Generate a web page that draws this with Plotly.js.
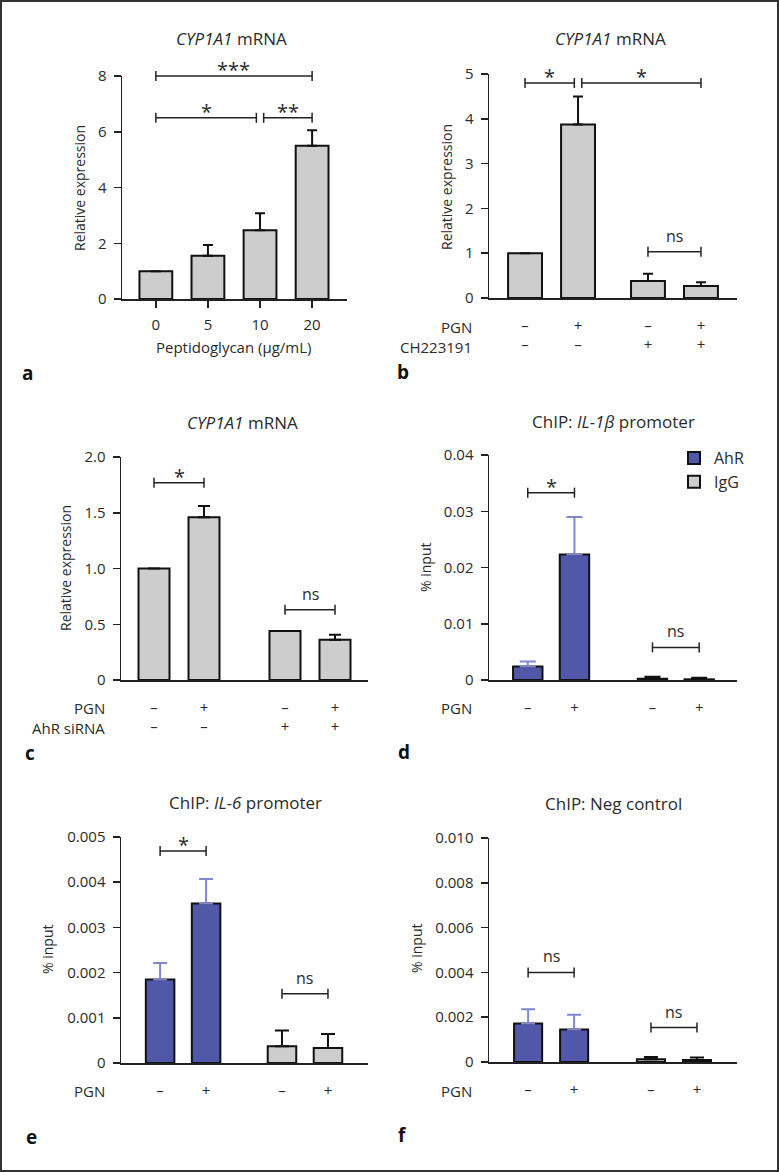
<!DOCTYPE html>
<html>
<head>
<meta charset="utf-8">
<script src="https://cdn.plot.ly/plotly-3.0.1.min.js"></script>
<style>
  html, body { margin: 0; padding: 0; background: #fff; }
  #fig { width: 779px; height: 1172px; }
</style>
</head>
<body>
<div id="fig"></div>
<script>
// a: CYP1A1 mRNA vs peptidoglycan dose
var doseLabels = ['0', '5', '10', '20'];
var doseMean = [1.0, 1.55, 2.47, 5.5];
var doseSem = [0, 0.39, 0.61, 0.55];

// b: PGN +/- CH223191
var chMean = [1.0, 3.87, 0.38, 0.27];
var chSem = [0, 0.63, 0.16, 0.08];

// c: PGN +/- AhR siRNA
var siMean = [1.0, 1.46, 0.44, 0.36];
var siSem = [0, 0.10, 0, 0.045];

// treatment rows under b-f
var pgnRow = ['–', '+', '–', '+'];
var inhibitorRow = ['–', '–', '+', '+'];

// d-f: ChIP, AhR antibody (first pair) and IgG (second pair)
var il1bAhR = [0.0024, 0.0223];
var il1bAhRSem = [0.0009, 0.0067];
var il1bIgG = [0.00024, 0.00012];
var il1bIgGSem = [0.00035, 0.0003];

var il6AhR = [0.00185, 0.00353];
var il6AhRSem = [0.00036, 0.00054];
var il6IgG = [0.00037, 0.00033];
var il6IgGSem = [0.00035, 0.00031];

var negAhR = [0.00172, 0.00145];
var negAhRSem = [0.00064, 0.00066];
var negIgG = [0.00012, 0.00009];
var negIgGSem = [0.0001, 0.00011];

// y ticks
var yTickA = [0, 2, 4, 6, 8];
var yTickB = [0, 1, 2, 3, 4, 5];
var yTickC = [0, 0.5, 1, 1.5, 2];
var yTextC = ['0', '0.5', '1.0', '1.5', '2.0'];
var yTickD = [0, 0.01, 0.02, 0.03, 0.04];
var yTickE = [0, 0.001, 0.002, 0.003, 0.004, 0.005];
var yTickF = [0, 0.002, 0.004, 0.006, 0.008, 0.010];
var yTextF = ['0', '0.002', '0.004', '0.006', '0.008', '0.010'];

// significance: [from bar, to bar, height, label]
var sigA = [[0, 3, 8, '***'], [0, 2, 6.5, '*'], [2, 3, 6.5, '**']];
var sigB = [[0, 1, 4.8, '*'], [1, 3, 4.8, '*'], [2, 3, 1.03, 'ns']];
var sigC = [[0, 1, 1.77, '*'], [2, 3, 0.63, 'ns']];
var sigD = [[0, 1, 0.0333, '*'], [2, 3, 0.0058, 'ns']];
var sigE = [[0, 1, 0.00469, '*'], [2, 3, 0.00153, 'ns']];
var sigF = [[0, 1, 0.004, 'ns'], [2, 3, 0.00154, 'ns']];

var W = 779, H = 1172;
function px(x) { return x / W; }
function py(y) { return 1 - y / H; }

var FONT = 'Open Sans, Noto Sans, sans-serif';
var INK = '#2b2b2b';
var GREY = '#cdcdcd';
var BLUE = '#5158a9';
var BLUE_ERR = '#8087cf';

// panel geometry in pixels: [left, right, top, bottom]
var panels = [
  {n: 1, box: [122, 347, 76, 299], xr: [-0.65, 3.67], slots: [0, 1, 2, 3], yMax: 8, bw: 0.63, cap: 5,
   yt: yTickA, ytt: yTickA.map(String), sig: sigA, ticks: doseLabels},
  {n: 2, box: [489, 737, 74, 298], xr: [-0.68, 4.0], slots: [0, 1, 2.32, 3.32], yMax: 5, bw: 0.64, cap: 5,
   yt: yTickB, ytt: yTickB.map(String), sig: sigB, ticks: pgnRow.map(function (v, i) { return v + '<br>' + inhibitorRow[i]; })},
  {n: 3, box: [121, 368, 457, 680], xr: [-0.66, 4.28], slots: [0, 1, 2.62, 3.62], yMax: 2, bw: 0.62, cap: 6,
   yt: yTickC, ytt: yTextC, sig: sigC, ticks: pgnRow.map(function (v, i) { return v + '<br>' + inhibitorRow[i]; })},
  {n: 4, box: [489, 737, 455, 680], xr: [-0.83, 4.48], slots: [0, 1, 2.67, 3.67], yMax: 0.04, bw: 0.63, cap: 8,
   yt: yTickD, ytt: yTickD.map(String), sig: sigD, ticks: pgnRow},
  {n: 5, box: [121, 368, 837, 1063], xr: [-0.85, 4.52], slots: [0, 1, 2.65, 3.65], yMax: 0.005, bw: 0.62, cap: 7,
   yt: yTickE, ytt: yTickE.map(String), sig: sigE, ticks: pgnRow},
  {n: 6, box: [489, 737, 838, 1062], xr: [-0.85, 4.54], slots: [0, 1, 2.67, 3.67], yMax: 0.010, bw: 0.61, cap: 7,
   yt: yTickF, ytt: yTextF, sig: sigF, ticks: pgnRow}
];

function suffix(p) { return p.n > 1 ? String(p.n) : ''; }

function bars(p, slots, y, err, fill, errColor, name, legend) {
  return {
    type: 'bar', x: slots, y: y, name: name, showlegend: legend,
    xaxis: 'x' + suffix(p), yaxis: 'y' + suffix(p),
    width: p.bw,
    marker: {color: fill, line: {color: '#111', width: 2}},
    error_y: {type: 'data', array: err, arrayminus: err.map(function () { return 0; }),
              symmetric: false, color: errColor, thickness: 2, width: p.cap},
    hoverinfo: 'skip'
  };
}

var P = {};
panels.forEach(function (p) { P[p.n] = p; });

var data = [
  bars(P[1], P[1].slots, doseMean, doseSem, GREY, '#111', 'a', false),
  bars(P[2], P[2].slots, chMean, chSem, GREY, '#111', 'b', false),
  bars(P[3], P[3].slots, siMean, siSem, GREY, '#111', 'c', false),
  bars(P[4], P[4].slots.slice(0, 2), il1bAhR, il1bAhRSem, BLUE, BLUE_ERR, 'AhR', true),
  bars(P[4], P[4].slots.slice(2), il1bIgG, il1bIgGSem, GREY, '#111', 'IgG', true),
  bars(P[5], P[5].slots.slice(0, 2), il6AhR, il6AhRSem, BLUE, BLUE_ERR, 'AhR', false),
  bars(P[5], P[5].slots.slice(2), il6IgG, il6IgGSem, GREY, '#111', 'IgG', false),
  bars(P[6], P[6].slots.slice(0, 2), negAhR, negAhRSem, BLUE, BLUE_ERR, 'AhR', false),
  bars(P[6], P[6].slots.slice(2), negIgG, negIgGSem, GREY, '#111', 'IgG', false)
];

var layout = {
  width: W, height: H,
  margin: {l: 0, r: 0, t: 0, b: 0},
  paper_bgcolor: '#fff', plot_bgcolor: 'rgba(0,0,0,0)',
  barmode: 'overlay',
  font: {family: FONT, size: 15, color: INK},
  showlegend: true,
  legend: {x: px(674), y: py(441), xanchor: 'left', yanchor: 'top',
           font: {size: 16, color: INK}, bgcolor: 'rgba(0,0,0,0)',
           itemwidth: 30, tracegroupgap: 0},
  shapes: [],
  annotations: []
};

panels.forEach(function (p) {
  var s = suffix(p);
  var b = p.box;
  layout['xaxis' + s] = {
    domain: [px(b[0]), px(b[1])], anchor: 'y' + s, range: p.xr,
    showline: true, linecolor: '#222', linewidth: 1.5,
    showgrid: false, zeroline: false, fixedrange: true,
    tickmode: 'array', tickvals: p.slots, ticktext: p.ticks,
    ticks: p.n === 1 ? 'outside' : '', ticklen: 7, tickwidth: 1.5, tickcolor: '#222',
    ticklabelstandoff: p.n === 1 ? 4 : 13,
    tickfont: {size: 15, color: INK}
  };
  layout['yaxis' + s] = {
    domain: [py(b[3]), py(b[2])], anchor: 'x' + s, range: [0, p.yMax],
    showline: true, linecolor: '#222', linewidth: 1.5,
    showgrid: false, zeroline: false, fixedrange: true,
    tickmode: 'array', tickvals: p.yt, ticktext: p.ytt,
    ticks: 'outside', ticklen: 7, tickwidth: 1.5, tickcolor: '#222',
    ticklabelstandoff: 4,
    tickfont: {size: 15, color: INK}
  };

  // significance brackets
  p.sig.forEach(function (g) {
    var x0 = p.slots[g[0]], x1 = p.slots[g[1]];
    p.sig.forEach(function (h) {
      if (h !== g && h[2] === g[2]) {
        if (h[0] === g[1]) x1 -= 0.07;
        if (h[1] === g[0]) x0 += 0.07;
      }
    });
    var f = g[2] / p.yMax;
    var line = {color: '#222', width: 1.5};
    layout.shapes.push({type: 'line', xref: 'x' + s, yref: 'y' + s + ' domain',
      x0: x0, x1: x1, y0: f, y1: f, line: line});
    [x0, x1].forEach(function (xe) {
      layout.shapes.push({type: 'line', xref: 'x' + s, yref: 'y' + s + ' domain',
        ysizemode: 'pixel', yanchor: f, x0: xe, x1: xe, y0: -5, y1: 5, line: line});
    });
    var star = g[3] !== 'ns';
    layout.annotations.push({xref: 'x' + s, yref: 'y' + s, x: (x0 + x1) / 2, y: g[2],
      text: g[3], showarrow: false, yanchor: 'bottom', yshift: star ? -9 : 3,
      font: {size: star ? 20 : 16, color: INK}});
  });
});

function note(text, x, y, opts) {
  var a = {xref: 'paper', yref: 'paper', x: px(x), y: py(y), text: text, showarrow: false,
           xanchor: 'center', yanchor: 'middle', font: {size: 15, color: INK}};
  for (var k in opts) a[k] = opts[k];
  layout.annotations.push(a);
}

// titles
var ttl = {font: {size: 17, color: INK}};
note('<i>CYP1A1</i> mRNA', 231, 38, ttl);
note('<i>CYP1A1</i> mRNA', 610, 38, ttl);
note('<i>CYP1A1</i> mRNA', 242, 422, ttl);
note('ChIP: <i>IL-1β</i> promoter', 613, 421, ttl);
note('ChIP: <i>IL-6</i> promoter', 245, 802, ttl);
note('ChIP: Neg control', 613, 803, ttl);

// y titles
var yt = {textangle: -90, font: {size: 14, color: INK}};
note('Relative expression', 80, 188, yt);
note('Relative expression', 447, 187, yt);
note('Relative expression', 65, 568, yt);
note('% input', 425, 568, yt);
note('% input', 47, 950, yt);
note('% input', 416, 949, yt);

// x title of a
note('Peptidoglycan (µg/mL)', 234, 347);

// treatment row labels
note('PGN', 474, 327, {xanchor: 'right'});
note('CH223191', 474, 347, {xanchor: 'right'});
note('PGN', 107, 708, {xanchor: 'right'});
note('AhR siRNA', 107, 728, {xanchor: 'right'});
note('PGN', 474, 708, {xanchor: 'right'});
note('PGN', 107, 1091, {xanchor: 'right'});
note('PGN', 474, 1091, {xanchor: 'right'});

// panel letters
var bold = {font: {size: 19, color: '#111', family: FONT, weight: 'bold'}};
note('<b>a</b>', 27, 373, bold);
note('<b>b</b>', 403, 372, bold);
note('<b>c</b>', 30, 753, bold);
note('<b>d</b>', 404, 752, bold);
note('<b>e</b>', 31, 1137, bold);
note('<b>f</b>', 402, 1135, bold);

// outer frame
layout.shapes.push({type: 'rect', xref: 'paper', yref: 'paper',
  x0: px(1), x1: px(778), y0: py(1), y1: py(1171),
  line: {color: '#333', width: 2}});

Plotly.newPlot('fig', data, layout, {staticPlot: true, displayModeBar: false});
</script>
</body>
</html>
